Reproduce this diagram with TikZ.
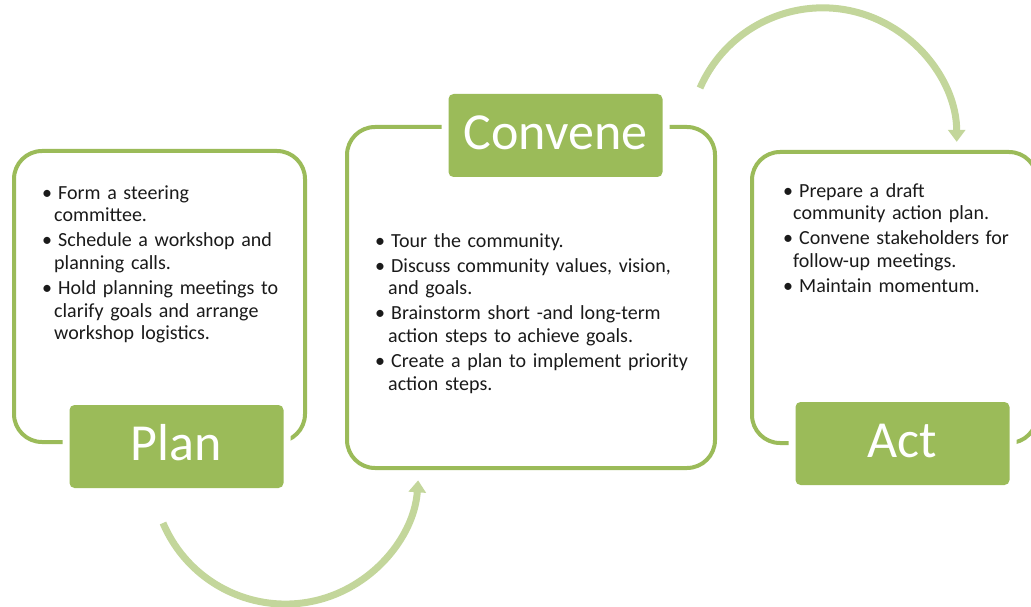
\documentclass[tikz,border=0pt]{standalone}
\usepackage{fontspec}
\setmainfont{Carlito}
\usetikzlibrary{arrows.meta}
\definecolor{boxgreen}{HTML}{9BBB59}
\definecolor{arrowgreen}{HTML}{C3D69B}
\definecolor{txt}{HTML}{1A1A1A}
\newlength\contind
\newcommand\nl{\\\hspace*{\contind}}
\newcommand\bul[1]{\par\noindent\makebox[11pt][l]{\hbox to 0pt{\hss\textbullet\hss}}\rule{0pt}{16pt}#1}
\tikzset{
  frame/.style={draw=boxgreen, line width=4pt, rounded corners=28pt, inner sep=0pt},
  tag/.style={fill=boxgreen, rounded corners=5pt, inner sep=0pt,
    preaction={draw=white, line width=14pt},
    minimum width=214pt, minimum height=83pt, text=white,
    font=\fontsize{52}{60}\selectfont, text height=28pt, text depth=0pt},
  bodytext/.style={anchor=north west, inner sep=0pt, text width=330pt, align=left,
    font=\fontsize{20}{22.7}\selectfont, text=txt},
  cyc/.style={draw=arrowgreen, line width=7pt, -{Triangle[length=12pt,width=17pt]}}
}
\begin{document}
\begin{tikzpicture}[x=1pt, y=-1pt]
\useasboundingbox (0,0) rectangle (1031,607);
\clip (0,0) rectangle (1031,607);
% frames
\node[frame, minimum width=291pt, minimum height=291pt] (planbox) at (159.5,296.5) {};
\node[frame, minimum width=368pt, minimum height=341pt] (convbox) at (531,297.5) {};
\node[frame, minimum width=285pt, minimum height=291pt] (actbox) at (894.5,297.5) {};
% tags
\node[tag] (plan) at (176.5,446.5) {Plan};
\node[tag] (convene) at (555.5,135.5) {Convene};
\node[tag] (act) at (902.5,443.5) {Act};
% texts
\node[bodytext] (plantext) at (47,174) {\setlength{\parskip}{2.3pt}\setlength{\contind}{7pt}%
\bul{Form a steering\nl committee.}
\bul{Schedule a workshop and\nl planning calls.}
\bul{Hold planning meetings to\nl clarify goals and arrange\nl workshop logistics.}};
\node[bodytext] (convtext) at (380,222) {\setlength{\parskip}{2.3pt}\setlength{\contind}{8pt}%
\bul{Tour the community.}
\bul{Discuss community values, vision,\nl and goals.}
\bul{Brainstorm short -and long-term\nl action steps to achieve goals.}
\bul{Create a plan to implement priority\nl action steps.}};
\node[bodytext] (acttext) at (788,172) {\setlength{\parskip}{2.3pt}\setlength{\contind}{5pt}%
\bul{Prepare a draft\nl community action plan.}
\bul{Convene stakeholders for\nl follow-up meetings.}
\bul{Maintain momentum.}};
% cycle arrows
\coordinate (lowstart) at (163,523);
\coordinate (highstart) at (700,88);
\draw[cyc] (lowstart) arc[start angle=157, end angle=4, radius=133];
\draw[cyc] (highstart) arc[start angle=203.7, end angle=360, radius=134];
\end{tikzpicture}
\end{document}
